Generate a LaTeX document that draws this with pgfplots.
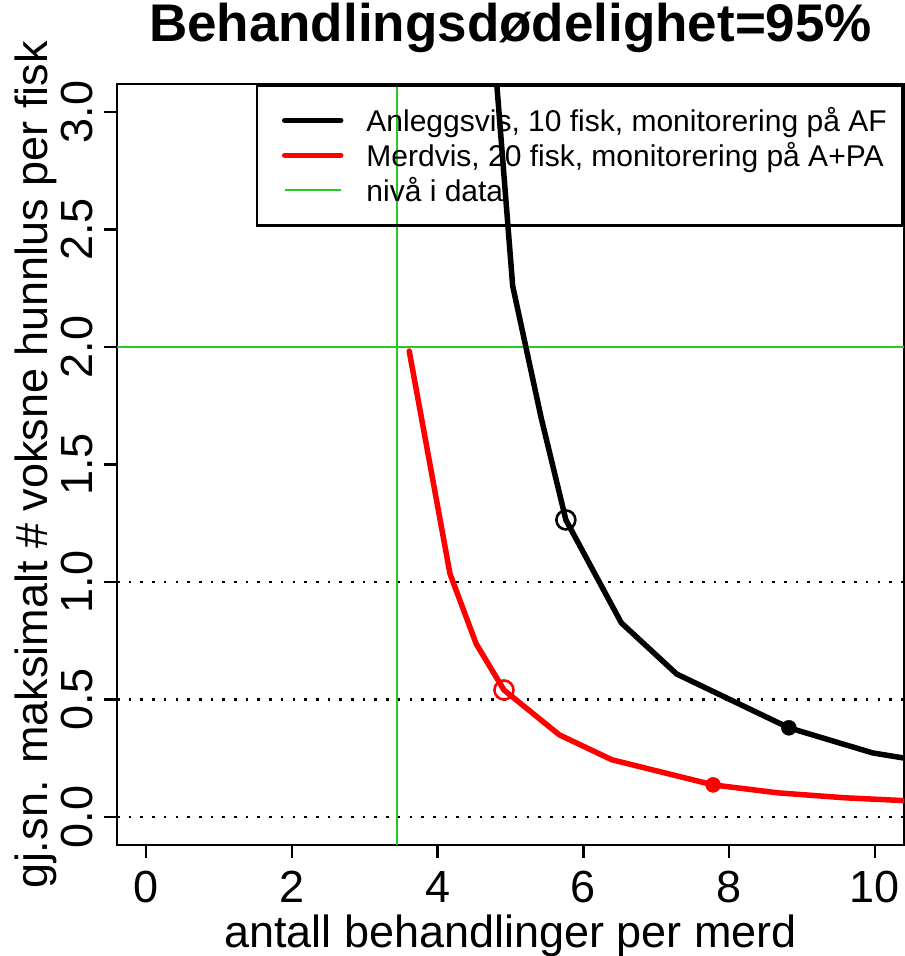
\documentclass[border=0pt]{standalone}
\usepackage{pgfplots}
\pgfplotsset{compat=1.18}
\usepackage{fontspec}
\setmainfont{Liberation Sans}
\definecolor{rgreen}{RGB}{40,200,40}
\definecolor{rred}{RGB}{255,0,0}
\begin{document}
\begin{tikzpicture}
\useasboundingbox (0,0) rectangle (905pt,956pt);
\begin{axis}[
  at={(117pt,111pt)}, anchor=south west,
  scale only axis, width=787pt, height=761pt,
  xmin=-0.4, xmax=10.4, ymin=-0.12, ymax=3.12,
  axis line style={line width=2.6pt},
  xtick={0,2,4,6,8,10},
  ytick={0,0.5,1,1.5,2,2.5,3},
  yticklabels={0.0,0.5,1.0,1.5,2.0,2.5,3.0},
  tick pos=left,
  tick align=outside,
  major tick length=13pt,
  tick style={line width=2.6pt, black},
  /pgf/number format/assume math mode=true,
  tick label style={font=\fontsize{45}{54}\selectfont},
  xticklabel style={anchor=base, inner sep=0pt, yshift=-44pt},
  yticklabel style={xshift=-12pt, rotate=90, anchor=base, inner sep=0pt},
  title={Behandlingsdødelighet=95\%},
  title style={at={(axis description cs:0.5,1.0473)}, anchor=base, inner sep=0pt, font=\fontsize{53}{60}\selectfont\bfseries},
  xlabel={antall behandlinger per merd},
  xlabel style={at={(axis description cs:0.5,-0.13403)}, anchor=base, inner sep=0pt, font=\fontsize{45}{54}\selectfont},
  ylabel={gj.sn. maksimalt \# voksne hunnlus per fisk},
  ylabel style={at={(axis description cs:-0.08895,0.5)}, anchor=base, inner sep=0pt, font=\fontsize{45}{54}\selectfont},
  legend style={at={(axis description cs:1,1)}, anchor=north east, draw=black, line width=2.6pt, fill=none,
    inner xsep=16pt, inner ysep=20pt, row sep=5pt, column sep=23pt,
    font=\fontsize{30}{36}\selectfont,
    nodes={inner sep=0pt, text height=26pt, text depth=4pt}},
  legend cell align=left,
  legend image code/.code={\path (0pt,0pt); \draw[#1] (9pt,0pt) -- (65pt,0pt);},
]
\addlegendimage{black, line width=5.5pt, line cap=round}
\addlegendentry{Anleggsvis, 10 fisk, monitorering på AF}
\addlegendimage{rred, line width=5.5pt, line cap=round}
\addlegendentry{Merdvis, 20 fisk, monitorering på A+PA}
\addlegendimage{rgreen, line width=1.6pt}
\addlegendentry{nivå i data}

% reference lines
\addplot[forget plot, rgreen, line width=1.6pt] coordinates {(-0.4,2.0) (10.4,2.0)};
\addplot[forget plot, rgreen, line width=1.6pt] coordinates {(3.44,-0.12) (3.44,3.12)};
\addplot[forget plot, black, line width=2.6pt, dash pattern=on 2.6pt off 9.1pt] coordinates {(-0.4,0) (10.4,0)};
\addplot[forget plot, black, line width=2.6pt, dash pattern=on 2.6pt off 9.1pt] coordinates {(-0.4,0.5) (10.4,0.5)};
\addplot[forget plot, black, line width=2.6pt, dash pattern=on 2.6pt off 9.1pt] coordinates {(-0.4,1.0) (10.4,1.0)};

% Anleggsvis
\addplot[forget plot, black, line width=5.5pt, line cap=round, line join=round] coordinates {
(4.74,3.40) (5.03,2.26) (5.42,1.70) (5.76,1.264) (6.52,0.826) (7.28,0.608) (8.82,0.379) (9.97,0.272) (10.6,0.24)};
% Merdvis
\addplot[forget plot, rred, line width=5.5pt, line cap=round, line join=round] coordinates {
(3.61,1.983) (4.17,1.034) (4.53,0.736) (4.91,0.540) (5.67,0.349) (6.39,0.243) (7.78,0.136) (8.67,0.102) (9.59,0.081) (10.6,0.066)};

% markers
\addplot[forget plot, only marks, black, mark=o, mark size=9.5pt, mark options={line width=2.6pt}] coordinates {(5.76,1.264)};
\addplot[forget plot, only marks, rred, mark=o, mark size=9.5pt, mark options={line width=2.6pt}] coordinates {(4.91,0.540)};
\addplot[forget plot, only marks, black, mark=*, mark size=7.5pt, mark options={line width=0.5pt}] coordinates {(8.82,0.379)};
\addplot[forget plot, only marks, rred, mark=*, mark size=7.5pt, mark options={line width=0.5pt}] coordinates {(7.78,0.136)};
\end{axis}
\end{tikzpicture}
\end{document}
